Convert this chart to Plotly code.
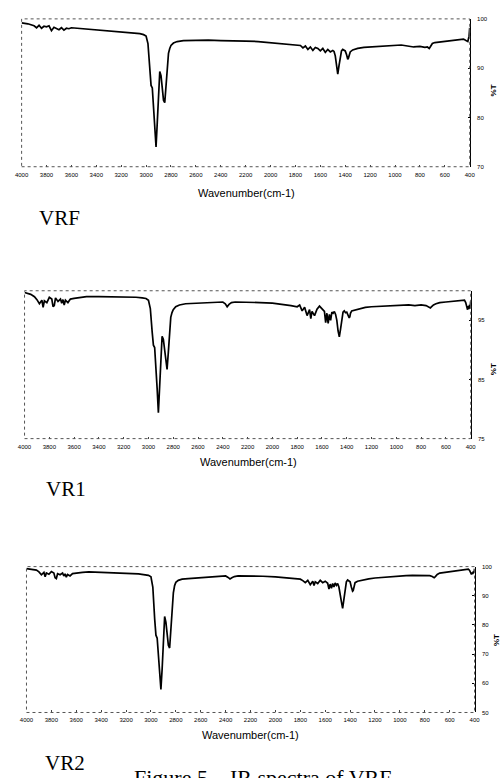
import plotly.graph_objects as go

W, H = 502, 778

# ---------------- data ----------------
wn_vrf = [4000, 3950, 3900, 3880, 3860, 3840, 3820, 3800, 3780, 3760,
          3740, 3720, 3700, 3680, 3660, 3640, 3620, 3600, 3550, 3500,
          3400, 3300, 3200, 3100, 3050, 3020, 3000, 2985, 2970, 2960,
          2950, 2940, 2930, 2920, 2910, 2900, 2890, 2880, 2870, 2860,
          2850, 2840, 2830, 2820, 2810, 2800, 2780, 2750, 2700, 2600,
          2500, 2400, 2300, 2200, 2100, 2000, 1900, 1850, 1800, 1760,
          1740, 1720, 1700, 1680, 1660, 1640, 1620, 1600, 1580, 1560,
          1540, 1520, 1500, 1490, 1480, 1470, 1460, 1450, 1440, 1430,
          1420, 1410, 1400, 1390, 1380, 1375, 1370, 1360, 1340, 1300,
          1250, 1200, 1100, 1000, 950, 900, 850, 800, 760, 740,
          725, 715, 700, 680, 650, 600, 550, 500, 450, 430,
          415, 405, 400]
t_vrf = [99.2, 99.0, 98.6, 98.2, 98.7, 98.1, 98.5, 98.4, 98.6, 97.6,
         98.3, 98.0, 97.8, 98.2, 97.7, 98.1, 98.0, 98.2, 98.1, 98.0,
         97.8, 97.5, 97.3, 97.1, 97.0, 96.8, 96.5, 95.0, 90.0, 86.5,
         86.0, 82.0, 77.0, 74.0, 79.0, 85.0, 89.3, 88.5, 86.0, 83.5,
         83.0, 87.0, 91.0, 93.0, 94.0, 94.6, 95.1, 95.4, 95.6, 95.7,
         95.7, 95.6, 95.6, 95.5, 95.4, 95.2, 95.0, 94.9, 94.7, 94.6,
         94.1, 94.5, 93.8, 94.3, 93.6, 94.2, 94.0, 93.5, 94.0, 93.2,
         93.8, 93.3, 93.6, 93.4, 92.5, 90.5, 88.8, 90.5, 92.5, 93.5,
         93.8, 93.6, 93.5, 92.8, 91.8, 92.0, 92.6, 93.3, 93.7, 94.0,
         94.2, 94.3, 94.5, 94.6, 94.7, 94.5, 94.3, 94.4, 94.2, 94.3,
         94.0, 94.4, 95.0, 95.2, 95.3, 95.4, 95.6, 95.7, 95.9, 95.6,
         95.4, 96.5, 98.2]

wn_vr = [4000, 3950, 3920, 3900, 3880, 3860, 3850, 3840, 3820, 3800,
         3780, 3770, 3760, 3750, 3730, 3710, 3700, 3690, 3680, 3670,
         3650, 3630, 3600, 3550, 3500, 3400, 3300, 3200, 3100, 3050,
         3020, 3000, 2985, 2970, 2960, 2950, 2940, 2930, 2920, 2910,
         2900, 2890, 2880, 2870, 2860, 2850, 2840, 2830, 2820, 2810,
         2800, 2780, 2750, 2700, 2600, 2500, 2400, 2380, 2365, 2350,
         2330, 2300, 2200, 2100, 2000, 1900, 1850, 1800, 1780, 1760,
         1740, 1720, 1700, 1690, 1680, 1660, 1640, 1620, 1600, 1580,
         1570, 1560, 1550, 1540, 1530, 1520, 1510, 1500, 1490, 1480,
         1470, 1460, 1450, 1440, 1430, 1420, 1410, 1400, 1390, 1380,
         1375, 1370, 1360, 1340, 1300, 1250, 1200, 1100, 1000, 950,
         900, 850, 800, 760, 740, 725, 715, 700, 680, 650,
         600, 550, 500, 450, 440, 430, 425, 420, 415, 410,
         405, 400]
t_vr1 = [99.7, 99.4, 99.0, 98.5, 97.8, 98.4, 97.2, 98.3, 98.0, 98.9,
         98.6, 97.3, 97.5, 98.8, 98.2, 98.6, 97.9, 98.5, 97.6, 98.4,
         98.0, 98.6, 98.7, 98.9, 99.0, 99.0, 99.0, 98.9, 98.9, 98.8,
         98.7, 98.4, 97.0, 93.0, 90.8, 90.4, 87.5, 83.5, 79.4, 83.5,
         89.0, 92.3, 91.8, 90.0, 87.5, 86.7, 89.5, 93.5, 95.5, 96.3,
         96.8, 97.3, 97.6, 97.8, 97.9, 98.0, 98.1, 97.8, 97.3, 97.7,
         98.0, 98.1, 98.1, 98.0, 97.9, 97.7, 97.5, 97.3, 97.6, 96.6,
         97.2, 95.8, 96.8, 95.3, 96.5, 95.8, 96.9, 97.4, 97.0, 96.5,
         94.6, 96.2, 94.5, 96.0, 95.0, 96.4, 96.2, 96.5, 96.0, 95.0,
         93.2, 92.2, 93.5, 95.5, 96.4, 96.6, 96.3, 96.4, 95.8, 95.4,
         95.6, 96.2, 96.6, 96.7, 97.0, 97.2, 97.3, 97.4, 97.5, 97.5,
         97.6, 97.5, 97.6, 97.5, 97.3, 97.1, 97.3, 97.6, 97.8, 98.0,
         98.1, 98.2, 98.3, 98.4, 98.0, 97.2, 96.8, 97.4, 96.9, 97.6,
         97.0, 98.2]
t_vr2 = [99.3, 99.0, 98.8, 98.2, 97.2, 98.0, 96.5, 97.8, 97.4, 98.3,
         97.8, 96.2, 95.9, 97.6, 97.2, 97.8, 96.8, 97.5, 96.4, 97.3,
         96.8, 97.6, 97.8, 98.0, 98.2, 98.1, 97.9, 97.7, 97.5, 97.3,
         97.0, 96.5, 93.0, 82.0, 76.5, 75.5, 70.0, 63.0, 57.9, 65.0,
         76.0, 82.9, 81.0, 77.0, 73.0, 72.1, 78.0, 86.0, 91.0, 93.5,
         94.6, 95.3, 95.7, 95.9, 96.2, 96.5, 96.8, 96.3, 95.8, 96.2,
         96.6, 96.8, 96.8, 96.7, 96.5, 96.2, 96.0, 95.7, 95.2, 94.5,
         95.3, 93.8, 95.0, 93.5, 94.8, 94.2, 95.3, 94.5, 95.0, 94.3,
         92.3, 94.0, 92.6, 94.2, 93.0, 94.4, 93.6, 94.2, 93.0, 91.0,
         88.0, 85.7, 88.5, 92.5, 94.8, 95.4, 95.1, 94.8, 93.0, 91.6,
         91.8, 93.0, 94.5, 95.0, 95.4, 95.8, 96.1, 96.5, 96.8, 96.9,
         97.0, 97.0, 97.1, 96.9, 96.6, 96.2, 96.6, 97.3, 97.8, 98.0,
         98.2, 98.5, 98.8, 99.1, 98.7, 97.8, 97.3, 98.0, 97.5, 98.3,
         97.8, 99.3]

x_ticks = [4000, 3800, 3600, 3400, 3200, 3000, 2800, 2600, 2400, 2200,
           2000, 1800, 1600, 1400, 1200, 1000, 800, 600, 400]
y_ticks_vrf = [100, 90, 80, 70]
y_ticks_vr1 = [95, 85, 75]
y_ticks_vr2 = [100, 90, 80, 70, 60, 50]
sample_names = ["VRF", "VR1", "VR2"]
x_title = "Wavenumber(cm-1)"
y_title = "%T"
caption = "Figure 5    IR spectra of VRF"

# ---------------- layout helpers (pixel boxes) ----------------
def px(x):
    return x / W

def py(y):
    return 1 - y / H

panels = [
    dict(wn=wn_vrf, t=t_vrf, yr=[70, 100], yt=y_ticks_vrf,
         box=(15, 475, 16, 165), title_xy=(246, 191), pt_xy=(499, 88),
         name_xy=(54, 217)),
    dict(wn=wn_vr, t=t_vr1, yr=[75, 100], yt=y_ticks_vr1,
         box=(18, 476, 290, 439), title_xy=(248, 463), pt_xy=(499, 369),
         name_xy=(61, 490)),
    dict(wn=wn_vr, t=t_vr2, yr=[50, 100], yt=y_ticks_vr2,
         box=(20, 480, 568, 715), title_xy=(250, 738), pt_xy=(502, 642),
         name_xy=(60, 766)),
]

fig = go.Figure()
annotations = []
shapes = []
layout = {}
for i, p in enumerate(panels, start=1):
    assert len(p["wn"]) == len(p["t"])
    xa = "x" if i == 1 else f"x{i}"
    ya = "y" if i == 1 else f"y{i}"
    fig.add_trace(go.Scatter(x=p["wn"], y=p["t"], mode="lines",
                             line=dict(color="black", width=1.7),
                             xaxis=xa, yaxis=ya, showlegend=False,
                             hoverinfo="skip"))
    x0, x1, y0, y1 = p["box"]
    layout["xaxis" if i == 1 else f"xaxis{i}"] = dict(
        domain=[px(x0), px(x1)], anchor=ya, range=[4000, 400],
        tickvals=x_ticks, ticktext=[str(v) for v in x_ticks],
        ticks="inside", ticklen=2, tickcolor="#444", tickwidth=1,
        showgrid=False, zeroline=False, showline=False,
        tickfont=dict(family="Liberation Sans", size=6, color="black"),
        ticklabelstandoff=3, fixedrange=True)
    layout["yaxis" if i == 1 else f"yaxis{i}"] = dict(
        domain=[py(y1), py(y0)], anchor=xa, range=p["yr"], side="right",
        tickvals=p["yt"], ticks="inside", ticklen=2, tickcolor="black",
        showgrid=False, zeroline=False, showline=True, linecolor="black",
        linewidth=1.3, tickfont=dict(family="Liberation Sans", size=6,
                                     color="black"),
        ticklabelstandoff=5, fixedrange=True)
    shapes.append(dict(type="rect", xref="paper", yref="paper",
                       x0=px(x0), x1=px(x1), y0=py(y1), y1=py(y0),
                       line=dict(color="#555", width=1, dash="dot")))
    tx, ty = p["title_xy"]
    annotations.append(dict(text=x_title, x=px(tx), y=py(ty), xref="paper",
                            yref="paper", showarrow=False, xanchor="center",
                            yanchor="middle",
                            font=dict(family="Liberation Sans", size=11,
                                      color="black")))
    ptx, pty = p["pt_xy"]
    annotations.append(dict(text="<b>" + y_title + "</b>", x=px(ptx),
                            y=py(pty), xref="paper", yref="paper",
                            showarrow=False, textangle=-90, xanchor="center",
                            yanchor="middle",
                            font=dict(family="Liberation Sans", size=8,
                                      color="black")))
    nx, ny = p["name_xy"]
    annotations.append(dict(text=sample_names[i - 1], x=px(nx), y=py(ny),
                            xref="paper", yref="paper", showarrow=False,
                            xanchor="center", yanchor="middle",
                            font=dict(family="Liberation Serif", size=21,
                                      color="black")))

annotations.append(dict(text=caption, x=px(262), y=py(766), xref="paper",
                        yref="paper", showarrow=False, xanchor="center",
                        yanchor="top",
                        font=dict(family="Liberation Serif", size=22,
                                  color="black")))

fig.update_layout(width=W, height=H, margin=dict(l=0, r=0, t=0, b=0),
                  paper_bgcolor="white", plot_bgcolor="white",
                  annotations=annotations, shapes=shapes, **layout)
fig.write_html("out.html")
